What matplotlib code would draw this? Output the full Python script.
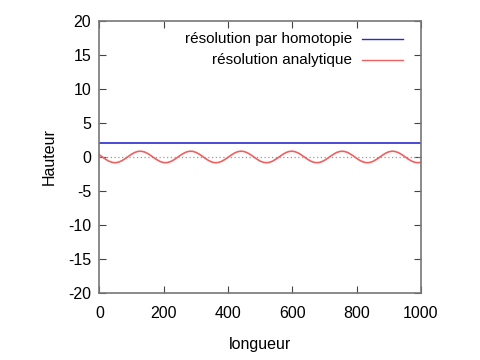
import matplotlib
matplotlib.use("Agg")
import matplotlib.pyplot as plt
from matplotlib.lines import Line2D

# longueur, step 10
x = list(range(0, 1001, 10))

# résolution analytique
y_analytic = [
    0.31, -0.03, -0.36, -0.63, -0.80, -0.85, -0.76, -0.55, -0.26, 0.08,
    0.40, 0.66, 0.82, 0.84, 0.74, 0.51, 0.21, -0.13, -0.44, -0.69,
    -0.83, -0.84, -0.71, -0.47, -0.16, 0.18, 0.49, 0.72, 0.84, 0.83,
    0.68, 0.43, 0.11, -0.23, -0.53, -0.75, -0.85, -0.81, -0.65, -0.38,
    -0.06, 0.28, 0.57, 0.77, 0.85, 0.80, 0.62, 0.34, 0.01, -0.32,
    -0.61, -0.79, -0.85, -0.78, -0.58, -0.29, 0.04, 0.37, 0.64, 0.81,
    0.85, 0.75, 0.54, 0.24, -0.10, -0.42, -0.67, -0.82, -0.84, -0.73,
    -0.50, -0.19, 0.15, 0.46, 0.70, 0.83, 0.83, 0.70, 0.45, 0.14,
    -0.20, -0.51, -0.73, -0.84, -0.82, -0.67, -0.41, -0.09, 0.25, 0.55,
    0.76, 0.85, 0.80, 0.63, 0.36, 0.04, -0.30, -0.58, -0.78, -0.85,
    -0.79,
]

# résolution par homotopie: constant height
homotopy_level = 2.0

labels = ["résolution par homotopie", "résolution analytique"]
colors = ["#2a2ad0", "#f06060"]

plt.rcParams["font.family"] = ["Liberation Sans", "DejaVu Sans"]
plt.rcParams["font.size"] = 11.5
plt.rcParams["axes.unicode_minus"] = False

fig = plt.figure(figsize=(4.8, 3.6), dpi=100)
ax = fig.add_axes([0.207, 0.186, 0.670, 0.756])

# zero axis
ax.axhline(0, color="#999999", linestyle=(0, (1, 2)), linewidth=0.9)

ax.plot([x[0], x[-1]], [homotopy_level, homotopy_level], color=colors[0], linewidth=1.2)
ax.plot(x, y_analytic, color=colors[1], linewidth=1.2)

ax.set_xlim(0, 1000)
ax.set_ylim(-20, 20)
ax.set_xticks(range(0, 1001, 200))
ax.set_yticks(range(-20, 21, 5))

ax.tick_params(direction="in", top=True, right=True, length=5, width=0.8,
               color="#444444")
ax.tick_params(axis="x", pad=9)
ax.tick_params(axis="y", pad=6)
for s in ax.spines.values():
    s.set_color("#777777")
    s.set_linewidth(1.2)

ax.set_xlabel("longueur", labelpad=12)
ax.set_ylabel("Hauteur", labelpad=8)

# gnuplot-like key: right-aligned text, sample after it
rows = [0.934, 0.857]
for lab, col, yy in zip(labels, colors, rows):
    ax.text(0.785, yy, lab, transform=ax.transAxes, ha="right", va="center",
            fontsize=11)
    ax.add_line(Line2D([0.817, 0.944], [yy, yy], transform=ax.transAxes,
                       color=col, linewidth=1.0))

fig.savefig("out.png", dpi=100)
